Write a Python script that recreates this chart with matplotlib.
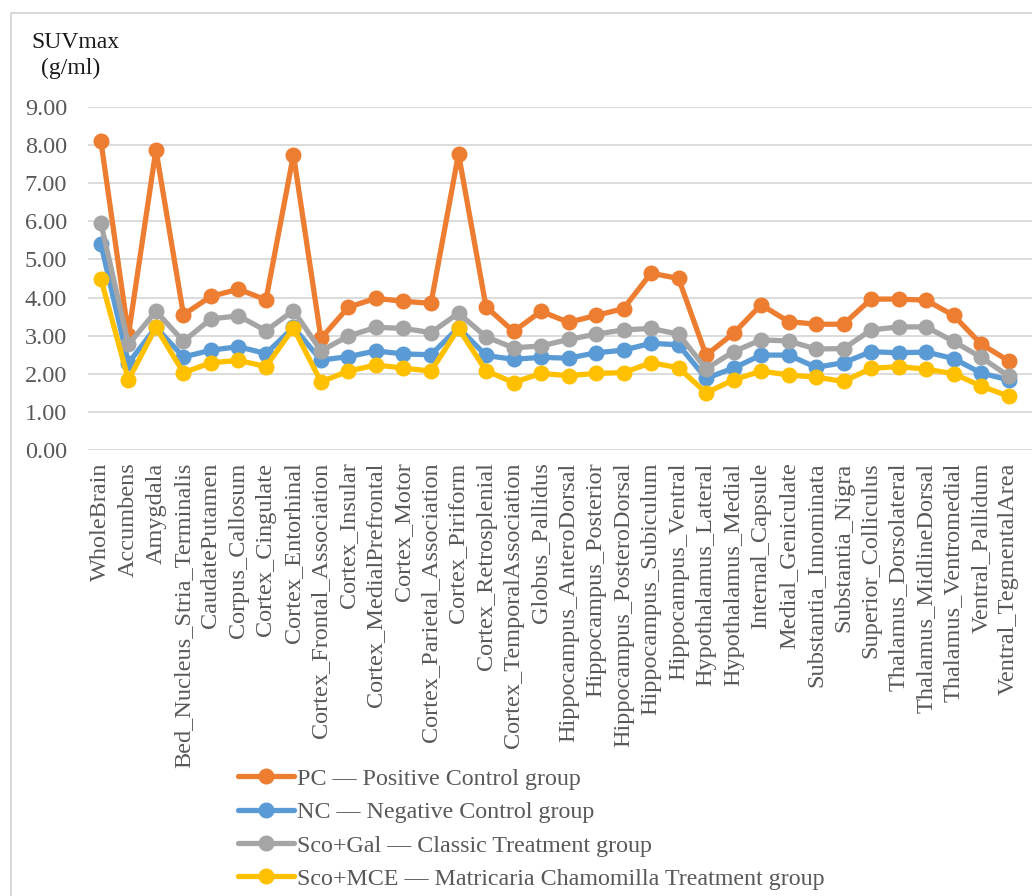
import matplotlib
matplotlib.use("Agg")
import matplotlib.pyplot as plt
from matplotlib.patches import Rectangle

regions = [
    "WholeBrain", "Accumbens", "Amygdala", "Bed_Nucleus_Stria_Terminalis",
    "CaudatePutamen", "Corpus_Callosum", "Cortex_Cingulate", "Cortex_Entorhinal",
    "Cortex_Frontal_Association", "Cortex_Insular", "Cortex_MedialPrefrontal",
    "Cortex_Motor", "Cortex_Parietal_Association", "Cortex_Piriform",
    "Cortex_Retrosplenial", "Cortex_TemporalAssociation", "Globus_Pallidus",
    "Hippocampus_AnteroDorsal", "Hippocampus_Posterior", "Hippocampus_PosteroDorsal",
    "Hippocampus_Subiculum", "Hippocampus_Ventral", "Hypothalamus_Lateral",
    "Hypothalamus_Medial", "Internal_Capsule", "Medial_Geniculate",
    "Substantia_Innominata", "Substantia_Nigra", "Superior_Colliculus",
    "Thalamus_Dorsolateral", "Thalamus_MidlineDorsal", "Thalamus_Ventromedial",
    "Ventral_Pallidum", "Ventral_TegmentalArea",
]

pc = [8.10, 3.02, 7.88, 3.55, 4.03, 4.22, 3.94, 7.75, 2.93, 3.75, 3.98, 3.90,
      3.85, 7.77, 3.76, 3.11, 3.64, 3.35, 3.53, 3.71, 4.64, 4.50, 2.49, 3.06,
      3.81, 3.37, 3.30, 3.30, 3.96, 3.96, 3.93, 3.53, 2.78, 2.34]
nc = [5.41, 2.28, 3.22, 2.44, 2.62, 2.71, 2.53, 3.22, 2.36, 2.45, 2.60, 2.52,
      2.50, 3.21, 2.48, 2.38, 2.43, 2.41, 2.55, 2.62, 2.80, 2.76, 1.88, 2.15,
      2.49, 2.49, 2.17, 2.29, 2.58, 2.55, 2.57, 2.40, 2.02, 1.84]
sco_gal = [5.95, 2.77, 3.64, 2.85, 3.44, 3.52, 3.13, 3.66, 2.60, 2.99, 3.22,
           3.19, 3.08, 3.59, 2.97, 2.68, 2.73, 2.90, 3.04, 3.15, 3.19, 3.04,
           2.13, 2.58, 2.89, 2.86, 2.65, 2.66, 3.15, 3.23, 3.23, 2.85, 2.43, 1.94]
sco_mce = [4.49, 1.84, 3.22, 2.03, 2.29, 2.35, 2.19, 3.20, 1.79, 2.07, 2.23,
           2.15, 2.07, 3.19, 2.08, 1.77, 2.01, 1.95, 2.01, 2.03, 2.29, 2.16,
           1.50, 1.84, 2.07, 1.97, 1.91, 1.80, 2.14, 2.19, 2.12, 2.00, 1.68, 1.41]

series = [
    ("PC — Positive Control group", pc, "#ED7D31"),
    ("NC — Negative Control group", nc, "#5B9BD5"),
    ("Sco+Gal — Classic Treatment group", sco_gal, "#A5A5A5"),
    ("Sco+MCE — Matricaria Chamomilla Treatment group", sco_mce, "#FFC000"),
]

plt.rcParams["font.family"] = ["Liberation Serif", "DejaVu Serif"]
W, H = 1032, 896
fig = plt.figure(figsize=(W / 100, H / 100), dpi=100)
ax = fig.add_axes([88 / W, 1 - 450 / H, (W - 88) / W, (450 - 107) / H])

x = list(range(len(regions)))
for label, vals, color in series:
    ax.plot(x, vals, color=color, lw=3.8, marker="o", ms=10.5,
            solid_capstyle="round", label=label, zorder=3)

ax.set_ylim(0, 9)
ax.set_xlim(-0.47, 33.85)
ax.set_yticks(range(10))
ax.set_yticklabels([f"{v:.2f}" for v in range(10)])
ax.set_xticks(x)
ax.set_xticklabels(regions, rotation=90, va="top", ha="center")
ax.tick_params(axis="both", length=0, labelsize=17.5, labelcolor="#595959")
ax.tick_params(axis="y", pad=15)
ax.tick_params(axis="x", pad=9)
ax.grid(axis="y", color="#D9D9D9", lw=1.3, zorder=0)
for s in ax.spines.values():
    s.set_visible(False)

# axis title, two lines
fig.text(75 / W, 1 - 48 / H, "SUVmax", ha="center", va="baseline",
         fontsize=17, color="#1a1a1a")
fig.text(71 / W, 1 - 74 / H, "(g/ml)", ha="center", va="baseline",
         fontsize=17, color="#1a1a1a")

leg = fig.legend(loc="upper left", bbox_to_anchor=(238 / W, 1 - 768 / H),
                 frameon=False, fontsize=17.3, handlelength=2.33, handletextpad=0.12,
                 labelspacing=0.48, borderpad=0, borderaxespad=0,
                 labelcolor="#595959")

fig.patches.append(Rectangle((11 / W, -0.1), 1.2, 1.1 - 13 / H, transform=fig.transFigure,
                             fill=False, ec="#D9D9D9", lw=1.5))

fig.savefig("out.png", dpi=100, facecolor="white")
